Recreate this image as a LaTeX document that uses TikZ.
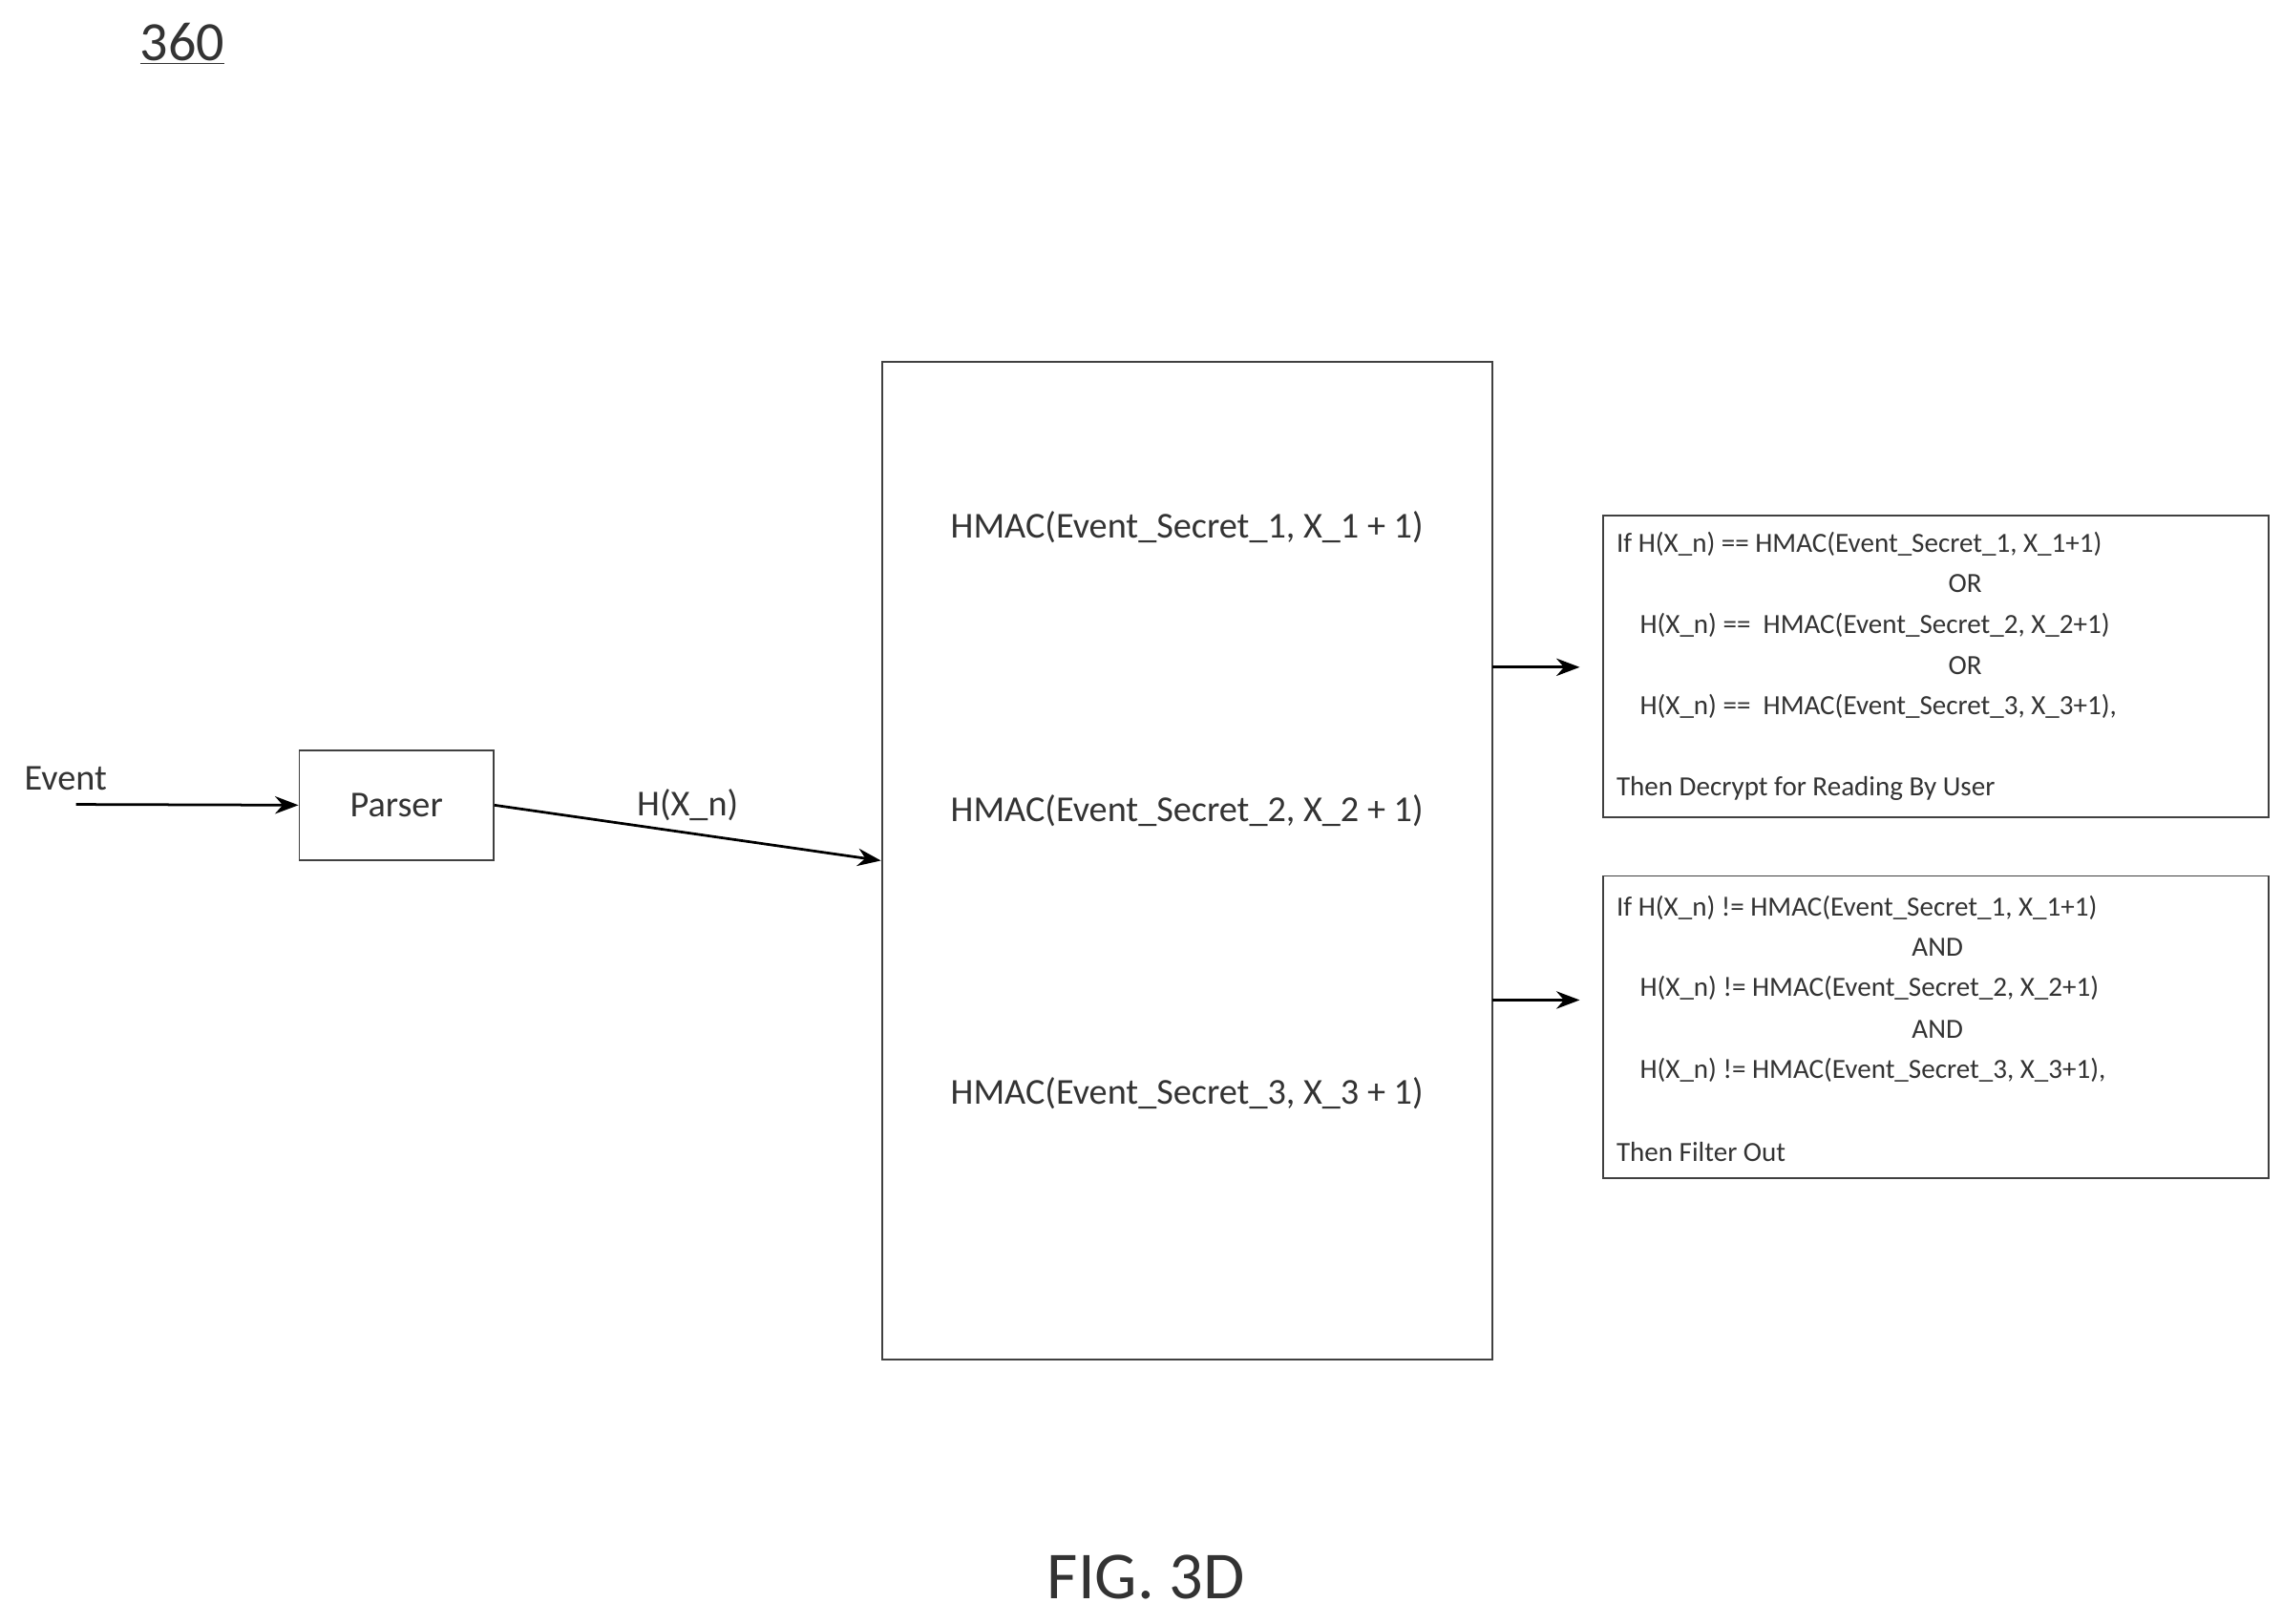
\documentclass[tikz,border=0pt]{standalone}
\usepackage{fontspec}
\setmainfont{Carlito}
\usetikzlibrary{arrows.meta}
\begin{document}
\begin{tikzpicture}[x=1pt,y=-1pt,
  box/.style={draw=black!75,line width=1.2pt,inner sep=0pt},
  arr/.style={line width=1.8pt,-{Stealth[length=16pt,width=12pt]}},
  big/.style={font=\fontsize{25}{30}\selectfont,text=black!80},
  sm/.style={font=\fontsize{19}{23}\selectfont,text=black!80,inner sep=0pt}]
\useasboundingbox (0,0) rectangle (1563,1112);
\node[font=\fontsize{38}{44}\selectfont,text=black!80] (title) at (125,30) {\underline{360}};
\node[big] (ev) at (45,533) {Event};
\coordinate (evs) at (52,551);
\node[box,minimum width=133pt,minimum height=75pt] (parser) at (271.5,551.5) {};
\node[big] at (parser) {Parser};
\node[box,minimum width=418pt,minimum height=683pt] (hm) at (813,589.5) {};
\node[big] (h1) at (813,361) {HMAC(Event\_Secret\_1, X\_1 + 1)};
\node[big] (h2) at (813,555) {HMAC(Event\_Secret\_2, X\_2 + 1)};
\node[big] (h3) at (813,749) {HMAC(Event\_Secret\_3, X\_3 + 1)};
\draw[arr] (evs) -- (parser.west);
\draw[arr] (parser.east) -- (hm.west) node[midway,above=4pt,big] (hx) {H(X\_n)};
\coordinate (a1s) at (1022,457); \coordinate (a1e) at (1082,457);
\coordinate (a2s) at (1022,685); \coordinate (a2e) at (1082,685);
\draw[arr] (a1s) -- (a1e);
\draw[arr] (a2s) -- (a2e);
\node[box,minimum width=456pt,minimum height=207pt] (b1) at (1326,456.5) {};
\node[box,minimum width=456pt,minimum height=207pt] (b2) at (1326,703.5) {};
\node[sm,anchor=west] (l11) at (1107,373) {If H(X\_n) == HMAC(Event\_Secret\_1, X\_1+1)};
\node[sm] (l12) at (1346,400) {OR};
\node[sm,anchor=west] (l13) at (1123,428) {H(X\_n) ==\ \ HMAC(Event\_Secret\_2, X\_2+1)};
\node[sm] (l14) at (1346,456) {OR};
\node[sm,anchor=west] (l15) at (1123,484) {H(X\_n) ==\ \ HMAC(Event\_Secret\_3, X\_3+1),};
\node[sm,anchor=west] (l16) at (1107,540) {Then Decrypt for Reading By User};
\node[sm,anchor=west] (l21) at (1107,622) {If H(X\_n) != HMAC(Event\_Secret\_1, X\_1+1)};
\node[sm] (l22) at (1327,649) {AND};
\node[sm,anchor=west] (l23) at (1123,677) {H(X\_n) != HMAC(Event\_Secret\_2, X\_2+1)};
\node[sm] (l24) at (1327,705) {AND};
\node[sm,anchor=west] (l25) at (1123,733) {H(X\_n) != HMAC(Event\_Secret\_3, X\_3+1),};
\node[sm,anchor=west] (l26) at (1107,789) {Then Filter Out};
\node[font=\fontsize{46}{52}\selectfont,text=black!80] (fig) at (785,1080) {FIG. 3D};
\end{tikzpicture}
\end{document}
